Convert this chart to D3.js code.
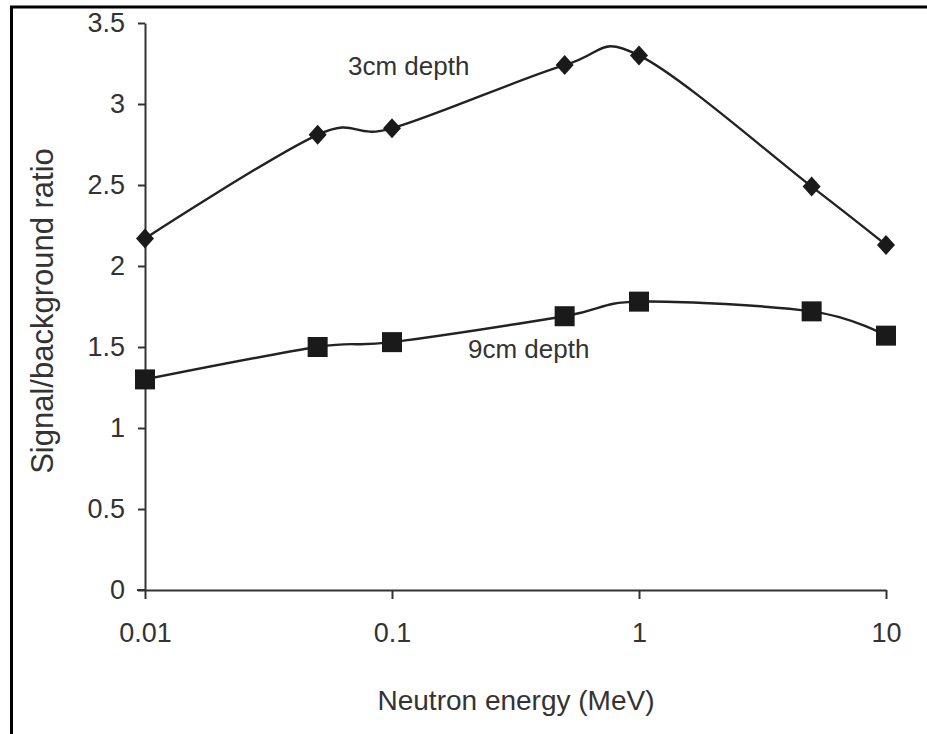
<!DOCTYPE html>
<html>
<head>
<meta charset="utf-8">
<script src="https://d3js.org/d3.v7.min.js"></script>
<style>
  body { margin: 0; background: #fff; }
  svg { display: block; }
  .axis text { font-family: 'Liberation Sans', Arial, sans-serif; font-size: 27px; fill: #333; }
  .axis path, .axis line { stroke: #333; stroke-width: 2px; }
  .lbl { font-family: 'Liberation Sans', Arial, sans-serif; fill: #333; }
</style>
</head>
<body>
<div id="chart"></div>
<script>
  // data
  var energies = [0.01, 0.05, 0.1, 0.5, 1, 5, 10];
  var depth3 = [2.17, 2.81, 2.85, 3.24, 3.30, 2.49, 2.13];
  var depth9 = [1.30, 1.50, 1.53, 1.69, 1.78, 1.72, 1.57];
  var xTicks = [0.01, 0.1, 1, 10];
  var yTicks = [0, 0.5, 1, 1.5, 2, 2.5, 3, 3.5];

  var W = 927, H = 734;
  var margin = {top: 23, right: 41, bottom: 144, left: 145};
  var width = W - margin.left - margin.right,
      height = H - margin.top - margin.bottom;

  var root = d3.select("#chart").append("svg")
    .attr("width", W)
    .attr("height", H);

  // frame (top + left only visible)
  root.append("path")
    .attr("d", "M11.5,734 L11.5,7 L927,7")
    .attr("fill", "none")
    .attr("stroke", "#000")
    .attr("stroke-width", 3);

  var svg = root.append("g")
    .attr("transform", "translate(" + margin.left + "," + margin.top + ")");

  var x = d3.scaleLog().domain([0.01, 10]).range([0, width]);
  var y = d3.scaleLinear().domain([0, 3.5]).range([height, 0]);

  svg.append("g")
    .attr("class", "axis")
    .attr("transform", "translate(0," + height + ")")
    .call(d3.axisBottom(x).tickValues(xTicks).tickSize(9).tickSizeOuter(0).tickPadding(24)
      .tickFormat(d => String(d)));

  svg.append("g")
    .attr("class", "axis")
    .call(d3.axisLeft(y).tickValues(yTicks).tickSize(7).tickSizeOuter(0).tickPadding(13)
      .tickFormat(d => String(d)));

  // x axis line runs a bit past the y axis
  svg.append("line")
    .attr("x1", -8).attr("x2", 0)
    .attr("y1", height).attr("y2", height)
    .attr("stroke", "#333").attr("stroke-width", 2);

  var line = d3.line()
    .x((d, i) => x(energies[i]))
    .y(d => y(d))
    .curve(d3.curveCatmullRom.alpha(0));

  [depth3, depth9].forEach(function (s) {
    svg.append("path")
      .datum(s)
      .attr("d", line)
      .attr("fill", "none")
      .attr("stroke", "#222")
      .attr("stroke-width", 2.4);
  });

  // diamonds
  svg.append("g").selectAll("path")
    .data(depth3)
    .enter().append("path")
    .attr("transform", (d, i) => "translate(" + x(energies[i]) + "," + y(d) + ")")
    .attr("d", "M0,-10 L9,0 L0,10 L-9,0 Z")
    .attr("fill", "#1a1a1a");

  // squares
  svg.append("g").selectAll("rect")
    .data(depth9)
    .enter().append("rect")
    .attr("x", (d, i) => x(energies[i]) - 10)
    .attr("y", d => y(d) - 10)
    .attr("width", 20)
    .attr("height", 20)
    .attr("fill", "#1a1a1a");

  // series labels
  svg.append("text").attr("class", "lbl")
    .attr("x", 348 - margin.left).attr("y", 75 - margin.top)
    .style("font-size", "26px")
    .text("3cm depth");

  svg.append("text").attr("class", "lbl")
    .attr("x", 468 - margin.left).attr("y", 358 - margin.top)
    .style("font-size", "26px")
    .text("9cm depth");

  // axis titles
  root.append("text").attr("class", "lbl")
    .attr("x", 516).attr("y", 710)
    .attr("text-anchor", "middle")
    .style("font-size", "28px")
    .text("Neutron energy (MeV)");

  root.append("text").attr("class", "lbl")
    .attr("transform", "translate(53,311) rotate(-90)")
    .attr("text-anchor", "middle")
    .style("font-size", "31px")
    .text("Signal/background ratio");
</script>
</body>
</html>
